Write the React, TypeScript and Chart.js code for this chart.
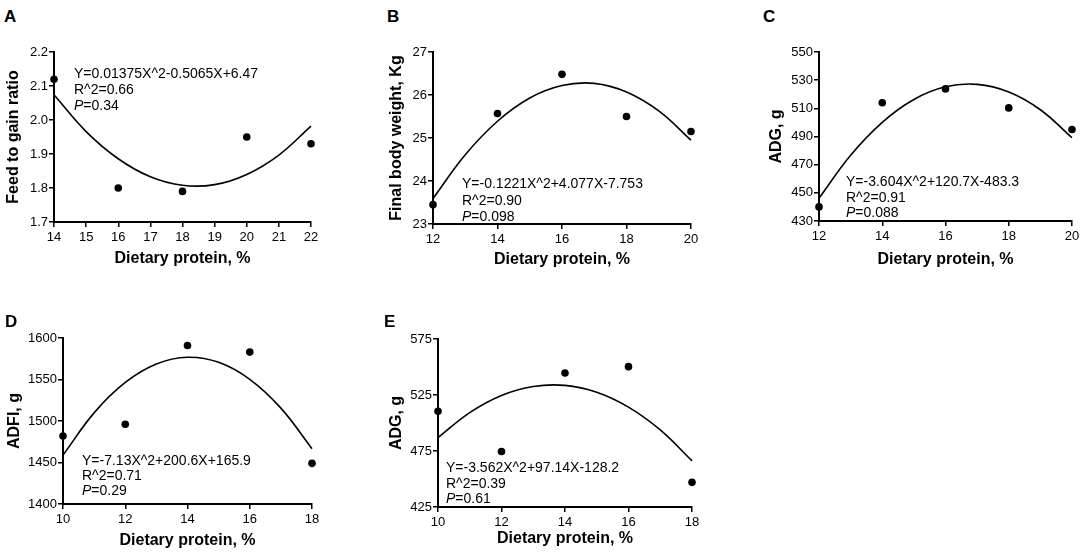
import React, { useEffect, useRef } from "react";
import { Chart, registerables } from "chart.js";
Chart.register(...registerables);

// ---------- DATA ----------
const X_TITLE = "Dietary protein, %";

// Panel A: Feed to gain ratio
const aProtein = [14, 16, 18, 20, 22];
const aValues = [2.12, 1.8, 1.79, 1.95, 1.93];
const aFitX = [14, 15, 16, 17, 18, 19, 20, 21, 22];
const aFitY = [2.074, 1.966, 1.886, 1.833, 1.808, 1.81, 1.84, 1.897, 1.982];
const aXTicks = [14, 15, 16, 17, 18, 19, 20, 21, 22];
const aYTicks = [1.7, 1.8, 1.9, 2.0, 2.1, 2.2];
const aYTickLabels = ["1.7", "1.8", "1.9", "2.0", "2.1", "2.2"];
const aEquation = ["Y=0.01375X^2-0.5065X+6.47", "R^2=0.66", "0.34"];

// Panel B: Final body weight
const bProtein = [12, 14, 16, 18, 20];
const bValues = [23.45, 25.57, 26.48, 25.5, 25.15];
const bFitX = [12, 13, 14, 15, 16, 17, 18, 19, 20];
const bFitY = [23.59, 24.61, 25.39, 25.93, 26.22, 26.27, 26.07, 25.63, 24.95];
const bXTicks = [12, 14, 16, 18, 20];
const bYTicks = [23, 24, 25, 26, 27];
const bYTickLabels = ["23", "24", "25", "26", "27"];
const bEquation = ["Y=-0.1221X^2+4.077X-7.753", "R^2=0.90", "0.098"];

// Panel C: ADG
const cProtein = [12, 14, 16, 18, 20];
const cValues = [440, 514, 523.8, 510.3, 495];
const cFitX = [12, 13, 14, 15, 16, 17, 18, 19, 20];
const cFitY = [446.1, 476.7, 500.1, 516.3, 525.3, 527.0, 521.6, 509.0, 489.1];
const cXTicks = [12, 14, 16, 18, 20];
const cYTicks = [430, 450, 470, 490, 510, 530, 550];
const cYTickLabels = ["430", "450", "470", "490", "510", "530", "550"];
const cEquation = ["Y=-3.604X^2+120.7X-483.3", "R^2=0.91", "0.088"];

// Panel D: ADFI
const dProtein = [10, 12, 14, 16, 18];
const dValues = [1482, 1496, 1591, 1583, 1449];
const dFitX = [10, 11, 12, 13, 14, 15, 16, 17, 18];
const dFitY = [1458.9, 1509.8, 1546.4, 1568.7, 1576.8, 1570.7, 1550.2, 1515.5, 1466.6];
const dXTicks = [10, 12, 14, 16, 18];
const dYTicks = [1400, 1450, 1500, 1550, 1600];
const dYTickLabels = ["1400", "1450", "1500", "1550", "1600"];
const dEquation = ["Y=-7.13X^2+200.6X+165.9", "R^2=0.71", "0.29"];

// Panel E: ADG
const eProtein = [10, 12, 14, 16, 18];
const eValues = [510.5, 474.6, 544.7, 550.3, 447];
const eFitX = [10, 11, 12, 13, 14, 15, 16, 17, 18];
const eFitY = [487.0, 509.3, 524.6, 532.6, 533.6, 527.5, 514.2, 493.8, 466.2];
const eXTicks = [10, 12, 14, 16, 18];
const eYTicks = [425, 475, 525, 575];
const eYTickLabels = ["425", "475", "525", "575"];
const eEquation = ["Y=-3.562X^2+97.14X-128.2", "R^2=0.39", "0.61"];

// ---------- LAYOUT ----------
const FONT = "'Liberation Sans', Arial, Helvetica, sans-serif";
const PAD_TOP = 20;
const PAD_RIGHT = 12;
const TITLE_HALF = 9.6; // half of title line height (16px * 1.2 / 2)

type PanelDef = {
  letter: string;
  letterX: number;
  letterY: number;
  px: number[];
  py: number[];
  fx: number[];
  fy: number[];
  xTicks: number[];
  yTicks: number[];
  yTickLabels: string[];
  yTitle: string;
  axisX: number;
  plotTop: number;
  plotRight: number;
  plotBottom: number;
  yTitleX: number;
  xTitleY: number;
  eq: string[];
  eqX: number;
  eqY: number;
  eqLH: number;
};

const panels: PanelDef[] = [
  {
    letter: "A", letterX: 4, letterY: 8,
    px: aProtein, py: aValues, fx: aFitX, fy: aFitY,
    xTicks: aXTicks, yTicks: aYTicks, yTickLabels: aYTickLabels,
    yTitle: "Feed to gain ratio",
    axisX: 54, plotTop: 52, plotRight: 311, plotBottom: 222, yTitleX: 14, xTitleY: 258,
    eq: aEquation, eqX: 74, eqY: 65, eqLH: 16,
  },
  {
    letter: "B", letterX: 387, letterY: 8,
    px: bProtein, py: bValues, fx: bFitX, fy: bFitY,
    xTicks: bXTicks, yTicks: bYTicks, yTickLabels: bYTickLabels,
    yTitle: "Final body weight, Kg",
    axisX: 433, plotTop: 52, plotRight: 691, plotBottom: 224, yTitleX: 397, xTitleY: 259,
    eq: bEquation, eqX: 462, eqY: 175, eqLH: 16.5,
  },
  {
    letter: "C", letterX: 763, letterY: 8,
    px: cProtein, py: cValues, fx: cFitX, fy: cFitY,
    xTicks: cXTicks, yTicks: cYTicks, yTickLabels: cYTickLabels,
    yTitle: "ADG, g",
    axisX: 819, plotTop: 52, plotRight: 1072, plotBottom: 221, yTitleX: 777, xTitleY: 259,
    eq: cEquation, eqX: 846, eqY: 174, eqLH: 15.5,
  },
  {
    letter: "D", letterX: 5, letterY: 313,
    px: dProtein, py: dValues, fx: dFitX, fy: dFitY,
    xTicks: dXTicks, yTicks: dYTicks, yTickLabels: dYTickLabels,
    yTitle: "ADFI, g",
    axisX: 63, plotTop: 338, plotRight: 312, plotBottom: 504, yTitleX: 15, xTitleY: 540,
    eq: dEquation, eqX: 82, eqY: 453, eqLH: 15,
  },
  {
    letter: "E", letterX: 384, letterY: 313,
    px: eProtein, py: eValues, fx: eFitX, fy: eFitY,
    xTicks: eXTicks, yTicks: eYTicks, yTickLabels: eYTickLabels,
    yTitle: "ADG, g",
    axisX: 438, plotTop: 339, plotRight: 692, plotBottom: 507, yTitleX: 397, xTitleY: 538,
    eq: eEquation, eqX: 446, eqY: 460, eqLH: 15.5,
  },
];

function PanelChart({ p }: { p: PanelDef }) {
  const ref = useRef<HTMLCanvasElement | null>(null);
  const left = Math.round(p.yTitleX - TITLE_HALF);
  const top = p.plotTop - PAD_TOP;
  const width = p.plotRight + PAD_RIGHT - left;
  const bottom = Math.round(p.xTitleY + TITLE_HALF);
  const height = bottom - top;
  const yWidth = p.axisX - left;
  const xHeight = bottom - p.plotBottom;

  useEffect(() => {
    if (!ref.current) return;
    const tickFont = { family: FONT, size: 13 };
    const titleFont = { family: FONT, size: 16, weight: "bold" as const };
    const chart = new Chart(ref.current, {
      type: "scatter",
      data: {
        datasets: [
          {
            data: p.fx.map((x, i) => ({ x, y: p.fy[i] })),
            showLine: true,
            borderColor: "#000",
            borderWidth: 1.6,
            pointRadius: 0,
            tension: 0.4,
            clip: false as any,
          },
          {
            data: p.px.map((x, i) => ({ x, y: p.py[i] })),
            showLine: false,
            backgroundColor: "#000",
            borderColor: "#000",
            pointRadius: 3.8,
            pointBorderWidth: 0,
            clip: false as any,
          },
        ],
      },
      options: {
        animation: false,
        responsive: false,
        maintainAspectRatio: false,
        devicePixelRatio: 1,
        layout: { padding: { left: 0, top: PAD_TOP, right: PAD_RIGHT, bottom: 0 } },
        plugins: { legend: { display: false }, tooltip: { enabled: false } },
        scales: {
          x: {
            type: "linear",
            min: p.xTicks[0],
            max: p.xTicks[p.xTicks.length - 1],
            afterBuildTicks: (s: any) => {
              s.ticks = p.xTicks.map((v) => ({ value: v }));
            },
            afterFit: (s: any) => {
              s.height = xHeight;
            },
            ticks: {
              font: tickFont,
              color: "#000",
              padding: 3,
              maxRotation: 0,
              autoSkip: false,
              callback: (v: any) => String(v),
            },
            grid: { drawOnChartArea: false, tickLength: 5, color: "#000", lineWidth: 1.5 },
            border: { display: true, color: "#000", width: 2 },
            title: { display: true, text: X_TITLE, font: titleFont, color: "#000", padding: 0 },
          },
          y: {
            type: "linear",
            min: p.yTicks[0],
            max: p.yTicks[p.yTicks.length - 1],
            afterBuildTicks: (s: any) => {
              s.ticks = p.yTicks.map((v) => ({ value: v }));
            },
            afterFit: (s: any) => {
              s.width = yWidth;
            },
            ticks: {
              font: tickFont,
              color: "#000",
              padding: 1,
              autoSkip: false,
              callback: (_v: any, i: number) => p.yTickLabels[i],
            },
            grid: { drawOnChartArea: false, tickLength: 5, color: "#000", lineWidth: 1.5 },
            border: { display: true, color: "#000", width: 2 },
            title: { display: true, text: p.yTitle, font: titleFont, color: "#000", padding: 0 },
          },
        },
      },
    });
    return () => chart.destroy();
  }, [p]);

  return (
    <>
      <canvas
        ref={ref}
        width={width}
        height={height}
        style={{ position: "absolute", left, top, width, height }}
      />
      <div
        style={{
          position: "absolute",
          left: p.letterX,
          top: p.letterY,
          font: `bold 17px ${FONT}`,
          lineHeight: "17px",
          color: "#000",
        }}
      >
        {p.letter}
      </div>
      <div
        style={{
          position: "absolute",
          left: p.eqX,
          top: p.eqY,
          font: `14px ${FONT}`,
          lineHeight: `${p.eqLH}px`,
          color: "#000",
          whiteSpace: "nowrap",
        }}
      >
        <div>{p.eq[0]}</div>
        <div>{p.eq[1]}</div>
        <div>
          <i>P</i>={p.eq[2]}
        </div>
      </div>
    </>
  );
}

export default function App() {
  return (
    <div
      style={{
        position: "absolute",
        left: 0,
        top: 0,
        width: 1084,
        height: 558,
        background: "#fff",
        overflow: "hidden",
      }}
    >
      {panels.map((p) => (
        <PanelChart key={p.letter} p={p} />
      ))}
    </div>
  );
}
